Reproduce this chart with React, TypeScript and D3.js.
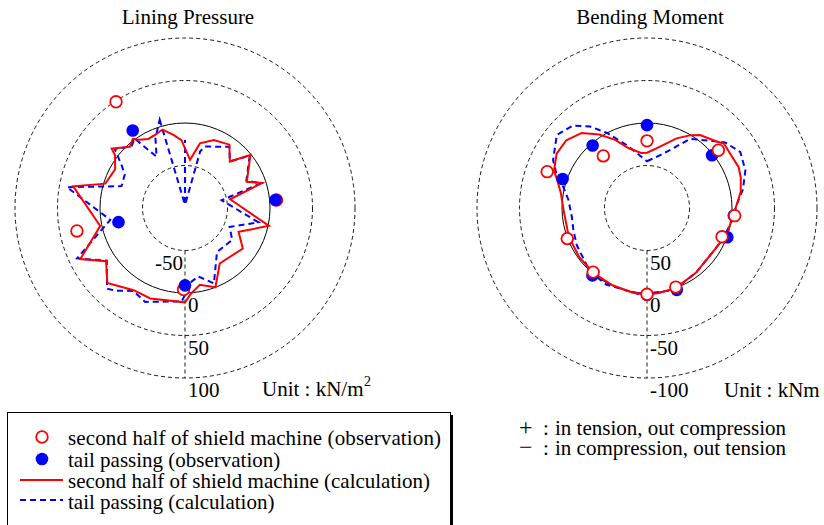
import React from "react";
import * as d3 from "d3";

// ---------- Data (angle in degrees clockwise from crown, value) ----------
// Lining pressure (kN/m2)
const LP_RING_VALUES = [-50, 0, 50, 100];
const LP_RING_LABELS = ["-50", "0", "50", "100"];
const LP_SECOND_CALC: [number, number][] = [
  [357, -20], [6, -43], [13, -22], [23, -13], [35, -9], [44, -24], [51, -1], [67, -21],
  [72, -5], [79, -46], [102, 1], [114, -31], [125, -17], [148, -23], [159, 0], [169, -8],
  [176, 1], [180, 11], [201, 14], [212, 14], [226, 27], [236, 12], [244, 37], [258, 2],
  [281, 34], [287, -2], [299, -6], [307, 3], [309, 11], [318, -3], [323, 2], [326, -3],
  [332, -8], [338, -7], [344, -4], [351, -13],
];
const LP_TAIL_CALC: [number, number][] = [
  [344, 8], [358, -96], [0, -20], [2, -96], [15, -31], [18, -24], [36, -11], [44, -24],
  [51, -2], [66, -21], [72, -6], [78, -56], [101, -12], [113, -43], [124, -33], [144, -36],
  [159, -5], [169, -18], [175, -13], [182, 10], [203, 20], [212, 15], [220, 27], [224, 32],
  [236, 11], [245, 40], [261, -11], [280, 41], [289, -21], [299, -19], [304, -10], [310, 8],
  [319, -4], [324, 1], [331, -31], [337, -11],
];
const LP_SECOND_OBS: [number, number][] = [[85, 8], [181, -4], [258, 30], [327, 49]];
const LP_TAIL_OBS: [number, number][] = [[85, 7], [180, -9], [258, -20], [326, 10]];

// Bending moment (kNm), + : in tension, out compression
const BM_RING_VALUES = [50, 0, -50, -100];
const BM_RING_LABELS = ["50", "0", "-50", "-100"];
const BM_SECOND_CALC: [number, number][] = [
  [0, 35], [9, 29], [23, 11], [31, 0], [36, -6], [46, -13], [50, -18], [66, -18],
  [72, -16], [80, -12], [86, -7], [94, -2], [108, 1], [125, 7], [143, 4.5], [160, 0],
  [172, -1], [180, -2], [190, -1], [204, 0.5], [219, 1], [234, 1.5], [250, 2], [268, 2],
  [280, -3], [286, -9], [292, -18], [301, -24], [310, -24], [319, -17], [327, -3],
  [335, 11.5], [343, 26.5], [354, 35],
];
const BM_TAIL_CALC: [number, number][] = [
  [0, 45], [17, 33], [32, 4], [50, -20], [59, -28], [69, -24], [79, -15], [88, -5.5],
  [97, -2], [112, 3.5], [125, 7], [143, 4.5], [162, -1.5], [185, -2], [208, -2], [222, -0.5],
  [227, 2.5], [242, 6.5], [253, 9.5], [263, 11], [276, 7], [284, -1.5], [290, -13],
  [297, -24], [309, -36.5], [318, -30.5], [325, -17], [332, 0], [342, 22],
];
const BM_SECOND_OBS: [number, number][] = [
  [0, 21], [51, -8], [95, -3.5], [111, 5.5], [160, 1], [180, -1.5], [220, 1.5], [249, -0.5],
  [290, -25], [320, 20],
];
const BM_TAIL_OBS: [number, number][] = [
  [0, 2.5], [51, 1.5], [95, -2.5], [110, -0.5], [160, -2.5], [180, -2], [219, -2], [249, -0.5],
  [289, -5], [319, 2.5],
];

const LEGEND_LABELS = [
  "second half of shield machine (observation)",
  "tail passing (observation)",
  "second half of shield machine (calculation)",
  "tail passing (calculation)",
];
const NOTE_SIGNS = ["+", "\u2212"];
const NOTE_TEXTS = ["in tension, out compression", "in compression, out tension"];

// ---------- Styles ----------
const FONT = "'Liberation Serif', 'Times New Roman', Times, serif";
const RED = "#ff0000";
const BLUE = "#0000ff";
const FS = 21;

type PanelProps = {
  cx: number;
  cy: number;
  title: string;
  domain: [number, number];
  ringValues: number[];
  ringLabels: string[];
  firstLabelLeft: boolean;
  second: [number, number][];
  tail: [number, number][];
  secondObs: [number, number][];
  tailObs: [number, number][];
  tailOnTop: boolean;
};

function Panel(p: PanelProps) {
  const r = d3.scaleLinear().domain(p.domain).range([0, 170]);
  const rad = (a: number) => (a * Math.PI) / 180;
  const line = d3
    .lineRadial<[number, number]>()
    .angle((d) => rad(d[0]))
    .radius((d) => r(d[1]))
    .curve(d3.curveLinearClosed);
  const pt = (d: [number, number]) => d3.pointRadial(rad(d[0]), r(d[1]));

  const redMarks = p.secondObs.map((d, i) => {
    const [x, y] = pt(d);
    return <circle key={"r" + i} cx={x} cy={y} r={5.8} fill="#fff" stroke={RED} strokeWidth={1.8} />;
  });
  const blueMarks = p.tailObs.map((d, i) => {
    const [x, y] = pt(d);
    return <circle key={"b" + i} cx={x} cy={y} r={6.3} fill={BLUE} />;
  });
  const innerR = r(p.ringValues[0]);
  const outerR = r(p.ringValues[p.ringValues.length - 1]);

  return (
    <g>
      <text x={p.cx + 3} y={24} textAnchor="middle" fontFamily={FONT} fontSize={FS}>
        {p.title}
      </text>
      <g transform={`translate(${p.cx},${p.cy})`}>
        {p.ringValues.map((v, i) => (
          <circle
            key={i}
            r={r(v)}
            fill="none"
            stroke="#000"
            strokeWidth={v === 0 ? 1 : 0.9}
            strokeDasharray={v === 0 ? undefined : "4,3"}
          />
        ))}
        <line x1={0} y1={innerR} x2={0} y2={outerR} stroke="#000" strokeWidth={0.9} strokeDasharray="4,3" />
        {p.ringValues.map((v, i) => {
          const left = p.firstLabelLeft && i === 0;
          return (
            <text
              key={"l" + i}
              x={left ? -2 : 3}
              y={r(v) + 19}
              textAnchor={left ? "end" : "start"}
              fontFamily={FONT}
              fontSize={FS}
            >
              {p.ringLabels[i]}
            </text>
          );
        })}
        <path d={line(p.tail) || ""} fill="none" stroke={BLUE} strokeWidth={2} strokeDasharray="6,4" />
        <path d={line(p.second) || ""} fill="none" stroke={RED} strokeWidth={2} strokeLinejoin="miter" />
        {p.tailOnTop ? redMarks : blueMarks}
        {p.tailOnTop ? blueMarks : redMarks}
      </g>
    </g>
  );
}

export default function App() {
  const legendY = [445, 467, 488, 509];
  return (
    <svg
      width={824}
      height={525}
      viewBox="0 0 824 525"
      style={{ position: "fixed", left: 0, top: 0, background: "#fff" }}
    >
      <rect x={0} y={0} width={824} height={525} fill="#fff" />
      <Panel
        cx={185}
        cy={208}
        title="Lining Pressure"
        domain={[-100, 100]}
        ringValues={LP_RING_VALUES}
        ringLabels={LP_RING_LABELS}
        firstLabelLeft={true}
        second={LP_SECOND_CALC}
        tail={LP_TAIL_CALC}
        secondObs={LP_SECOND_OBS}
        tailObs={LP_TAIL_OBS}
        tailOnTop={true}
      />
      <Panel
        cx={647}
        cy={208}
        title="Bending Moment"
        domain={[100, -100]}
        ringValues={BM_RING_VALUES}
        ringLabels={BM_RING_LABELS}
        firstLabelLeft={false}
        second={BM_SECOND_CALC}
        tail={BM_TAIL_CALC}
        secondObs={BM_SECOND_OBS}
        tailObs={BM_TAIL_OBS}
        tailOnTop={false}
      />
      <text x={262} y={396} fontFamily={FONT} fontSize={FS}>
        Unit : kN/m
      </text>
      <text x={364} y={386} fontFamily={FONT} fontSize={14}>
        2
      </text>
      <text x={724} y={397} fontFamily={FONT} fontSize={FS}>
        Unit : kNm
      </text>

      {/* legend */}
      <rect x={10} y={415} width={443} height={130} fill="#000" />
      <rect x={7.5} y={412.5} width={443} height={130} fill="#fff" stroke="#000" strokeWidth={1} />
      <circle cx={42} cy={437} r={5.8} fill="#fff" stroke={RED} strokeWidth={1.8} />
      <circle cx={42} cy={459} r={6.3} fill={BLUE} />
      <line x1={20} y1={480} x2={63} y2={480} stroke={RED} strokeWidth={2} />
      <line x1={20} y1={500} x2={63} y2={500} stroke={BLUE} strokeWidth={2} strokeDasharray="6,4" />
      {LEGEND_LABELS.map((t, i) => (
        <text key={i} x={68} y={legendY[i]} fontFamily={FONT} fontSize={FS} textLength={i === 0 ? 373 : undefined}>
          {t}
        </text>
      ))}

      {NOTE_SIGNS.map((s, i) => (
        <g key={i} fontFamily={FONT} fontSize={FS}>
          <text x={519} y={435 + i * 20} fontSize={24}>
            {s}
          </text>
          <text x={543} y={435 + i * 20}>
            :
          </text>
          <text x={555} y={435 + i * 20}>
            {NOTE_TEXTS[i]}
          </text>
        </g>
      ))}
    </svg>
  );
}
